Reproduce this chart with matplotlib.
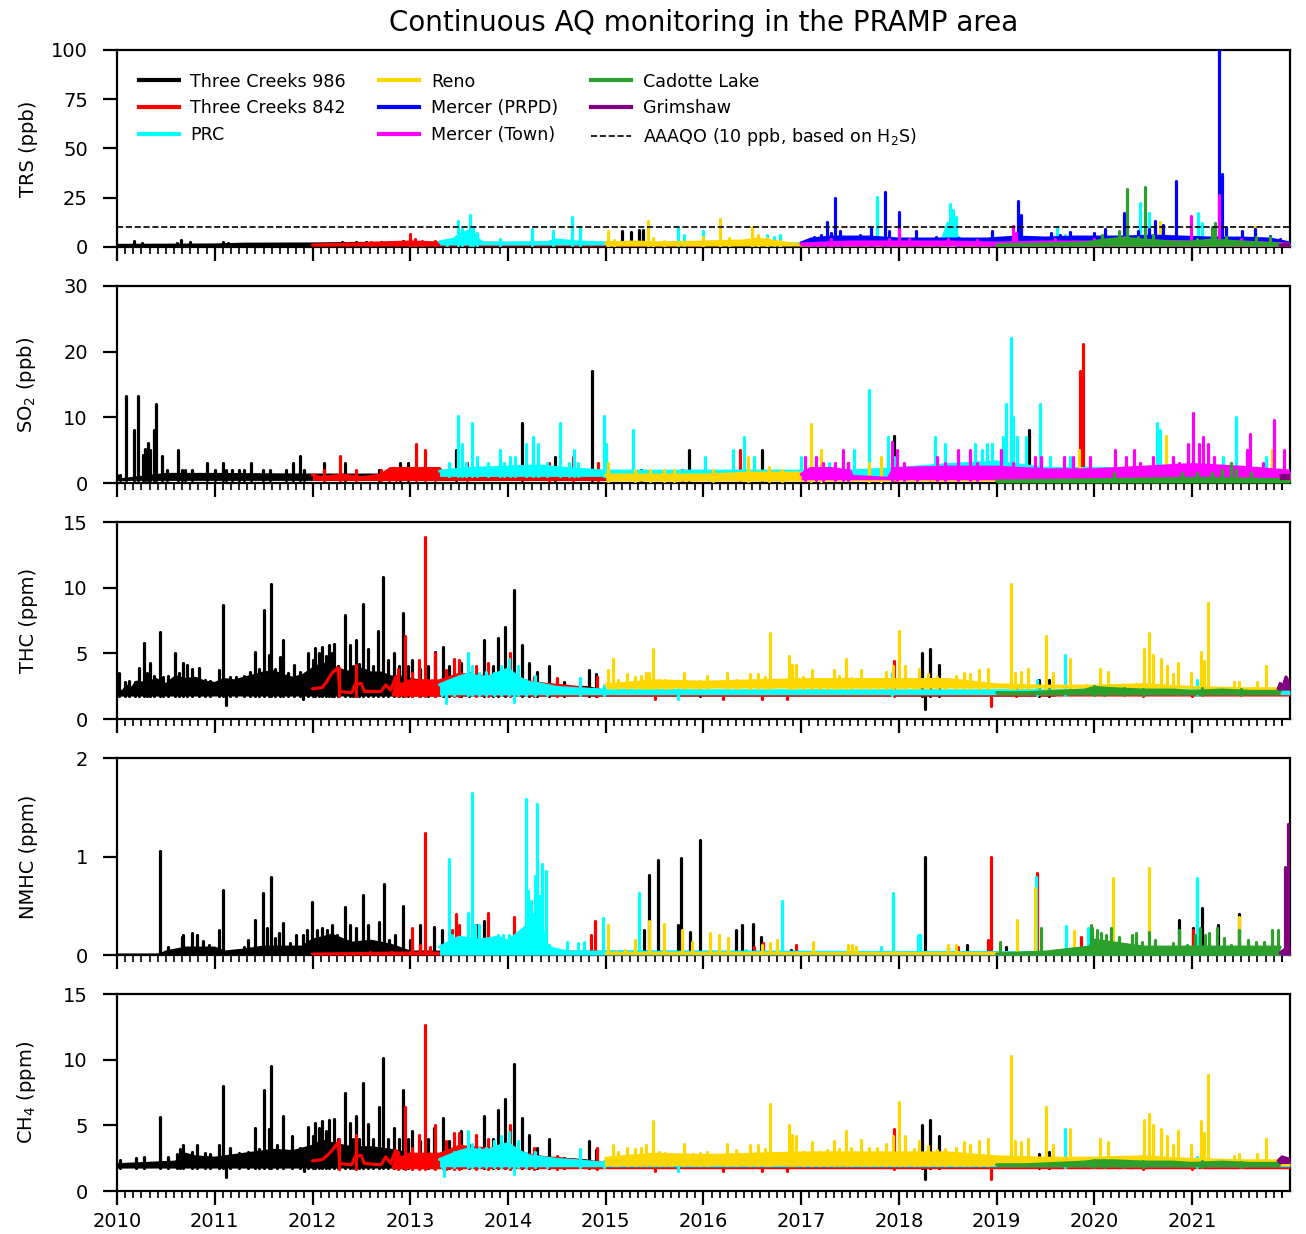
import matplotlib
matplotlib.use("Agg")
import matplotlib.pyplot as plt
from matplotlib.ticker import FixedLocator
from matplotlib.lines import Line2D

# ---------------- stations ----------------
STATIONS = ["Three Creeks 986", "Three Creeks 842", "PRC", "Reno",
            "Mercer (PRPD)", "Mercer (Town)", "Cadotte Lake", "Grimshaw"]
COLORS = ["black", "red", "cyan", "gold", "blue", "magenta", "#2ca02c", "purple"]

YEARS = list(range(2010, 2022))
AAAQO_TRS = 10

# Each series: BASE = upper envelope of the dense day-to-day band (year, value),
# SPIKES = individual excursions (year, value), FLOOR = lower edge of the band,
# BAND_START = year from which the band is dense (before it, only the line is seen).

# ---------------- TRS (ppb) ----------------
TRS_BASE = {
    "Three Creeks 986": [(2010.0, 0.8), (2010.5, 0.9), (2011.0, 1.0), (2011.3, 1.4), (2012.0, 1.5),
                         (2012.5, 1.8), (2013.0, 1.8), (2013.3, 1.2), (2015.0, 1.2), (2018.0, 1.0)],
    "Three Creeks 842": [(2012.0, 1.0), (2012.5, 1.6), (2012.8, 2.2), (2013.0, 2.5), (2013.3, 2.0),
                         (2014.0, 1.8), (2015.0, 1.8), (2016.0, 1.2)],
    "PRC": [(2013.3, 2.5), (2013.45, 4.0), (2013.5, 6), (2013.55, 7), (2013.6, 8), (2013.65, 6.5),
            (2013.7, 3.5), (2013.75, 2.0), (2014.0, 2.0), (2014.4, 2.2), (2014.5, 3.5), (2014.6, 3.0),
            (2014.7, 2.5), (2015.0, 2.0), (2015.5, 1.8), (2016.0, 2.0), (2016.5, 1.5), (2017.0, 1.5),
            (2017.5, 2.0), (2018.0, 2.0), (2018.45, 4), (2018.5, 12), (2018.55, 10), (2018.6, 5),
            (2018.7, 2.5), (2019.0, 2.0), (2019.5, 2.5), (2020.0, 2.5), (2020.5, 3.5), (2021.0, 3.0),
            (2021.5, 2.0), (2022.0, 2.0)],
    "Reno": [(2015.0, 2.0), (2015.3, 2.5), (2015.6, 2.0), (2016.0, 2.5), (2016.4, 3.0), (2016.55, 4.0),
             (2016.7, 3.0), (2016.9, 1.5), (2017.0, 1.2), (2019.0, 1.2), (2022.0, 1.2)],
    "Mercer (PRPD)": [(2017.0, 2.0), (2017.1, 4), (2017.3, 5), (2017.5, 5), (2017.7, 5), (2018.0, 4),
                      (2018.3, 4), (2018.6, 4), (2018.9, 4), (2019.2, 5), (2019.5, 4.5), (2019.8, 5),
                      (2020.0, 5), (2020.3, 5), (2020.6, 5.5), (2020.9, 5), (2021.2, 4.5),
                      (2021.5, 4.5), (2021.8, 4), (2022.0, 2.0)],
    "Mercer (Town)": [(2017.0, 1.5), (2017.5, 2.5), (2018.0, 2.5), (2018.5, 2.5), (2019.0, 2.0),
                      (2019.5, 2.5), (2020.0, 2.5), (2020.5, 3.0), (2021.0, 2.5), (2021.5, 2.5),
                      (2022.0, 1.5)],
    "Cadotte Lake": [(2019.0, 1.0), (2019.5, 1.5), (2019.9, 2.0), (2020.1, 3.5), (2020.3, 4.5), (2020.5, 3.5),
                     (2020.8, 2.5), (2021.0, 2.5), (2021.2, 3.5), (2021.5, 2.5), (2021.9, 1.5)],
    "Grimshaw": [(2021.9, 0.8), (2021.95, 1.5), (2022.0, 1.2)],
}
TRS_SPIKES = {
    "Three Creeks 986": [(2010.17, 2.9), (2010.26, 1.8), (2010.61, 2.2), (2010.65, 3.5), (2010.75, 2.5),
                         (2011.08, 2.5), (2011.14, 1.8), (2011.25, 1.5), (2012.3, 2.3), (2012.45, 2.5),
                         (2012.55, 2.5), (2012.7, 2.5), (2012.93, 3.0), (2015.17, 8.0), (2015.26, 7.5),
                         (2015.34, 8.5), (2015.38, 8.8), (2017.93, 3.0)],
    "Three Creeks 842": [(2012.35, 2.2), (2012.6, 2.3), (2012.85, 2.5), (2013.0, 6.8), (2013.05, 4.0),
                         (2013.12, 3.0), (2013.25, 3.0), (2014.7, 2.0), (2014.85, 2.2)],
    "PRC": [(2013.38, 3.5), (2013.49, 13), (2013.53, 9), (2013.61, 16), (2013.64, 10), (2013.68, 7),
            (2013.92, 4), (2014.25, 9), (2014.46, 8), (2014.65, 15), (2014.74, 10), (2015.74, 9.7),
            (2015.8, 6), (2016.0, 8), (2016.65, 6), (2016.72, 5), (2016.78, 6), (2017.78, 25.5),
            (2018.52, 21.6), (2018.55, 19), (2018.58, 15), (2019.62, 10), (2019.7, 6), (2020.47, 22.4),
            (2020.52, 15), (2020.56, 17), (2021.06, 17), (2021.1, 12)],
    "Reno": [(2015.02, 8), (2015.08, 3.5), (2015.43, 13), (2015.48, 4.5), (2015.6, 3), (2016.0, 5),
             (2016.17, 14.4), (2016.26, 4.5), (2016.5, 10), (2016.56, 6), (2016.65, 4.5), (2016.78, 3),
             (2020.67, 12.6), (2021.64, 10)],
    "Mercer (PRPD)": [(2017.13, 5), (2017.2, 6), (2017.26, 12.6), (2017.3, 7), (2017.35, 25), (2017.4, 8),
                      (2017.6, 6), (2017.71, 10), (2017.86, 27.8), (2017.9, 8), (2018.0, 18), (2018.17, 8),
                      (2018.38, 5), (2018.6, 4.5), (2018.95, 8), (2019.22, 23.4), (2019.25, 16),
                      (2019.56, 7), (2019.65, 6), (2019.75, 7.5), (2020.0, 7), (2020.11, 9), (2020.3, 17.3),
                      (2020.45, 8), (2020.56, 9), (2020.62, 13), (2020.7, 11), (2020.83, 33.4), (2021.0, 5),
                      (2021.27, 100), (2021.3, 36.8), (2021.35, 10), (2021.51, 8), (2021.64, 9),
                      (2021.8, 5.5), (2021.9, 4)],
    "Mercer (Town)": [(2017.3, 4), (2017.9, 4), (2018.0, 9), (2018.1, 4), (2018.5, 4), (2018.8, 3.5),
                      (2019.17, 10.5), (2019.2, 7), (2019.6, 4), (2020.0, 4), (2020.3, 5), (2020.6, 4),
                      (2020.99, 15.6), (2021.27, 26.3), (2021.5, 4), (2021.8, 3.5)],
    "Cadotte Lake": [(2020.08, 6), (2020.25, 8), (2020.33, 29.2), (2020.45, 5), (2020.52, 30.4),
                     (2020.6, 6), (2021.05, 4), (2021.2, 10), (2021.23, 12), (2021.35, 5), (2021.65, 5),
                     (2021.8, 5)],
    "Grimshaw": [],
}
TRS_FLOOR = {"Three Creeks 986": 0.3, "Three Creeks 842": 0.5, "PRC": 1.0, "Reno": 0.5,
             "Mercer (PRPD)": 1.0, "Mercer (Town)": 0.5, "Cadotte Lake": 0.5, "Grimshaw": 0.3}
TRS_BAND_START = {}

# ---------------- SO2 (ppb) ----------------
SO2_BASE = {
    "Three Creeks 986": [(2010.0, 1.2), (2010.05, 0.5), (2010.5, 1.3), (2011.0, 1.3), (2012.0, 1.2),
                         (2013.0, 1.2), (2014.0, 1.2), (2015.0, 1.2), (2017.0, 1.2), (2019.5, 1.2)],
    "Three Creeks 842": [(2012.0, 1.2), (2012.1, 0.8), (2012.3, 1.2), (2012.5, 0.8), (2012.7, 1.2),
                         (2012.8, 2.2), (2013.3, 2.2), (2013.35, 1.2), (2016.0, 1.2), (2022.0, 1.2)],
    "PRC": [(2013.3, 1.8), (2013.6, 2.2), (2014.0, 2.4), (2014.3, 2.6), (2014.6, 2.2), (2015.0, 1.8),
            (2016.0, 1.8), (2017.0, 1.8), (2017.5, 1.8), (2018.0, 2.2), (2018.5, 2.8), (2019.0, 3.2),
            (2019.5, 2.2), (2020.5, 2.2), (2021.5, 2.2), (2022.0, 1.8)],
    "Reno": [(2015.0, 1.2), (2016.0, 1.2), (2016.5, 1.5), (2017.0, 1.5), (2017.5, 1.0), (2017.9, 0.5),
             (2018.0, 1.2), (2022.0, 1.2)],
    "Mercer (PRPD)": [],
    "Mercer (Town)": [(2017.0, 1.3), (2017.1, 2.2), (2017.3, 2.2), (2017.5, 1.8), (2017.52, 1.0),
                      (2017.89, 0.7), (2017.95, 2.2), (2018.5, 2.4), (2019.0, 2.4), (2019.5, 2.0),
                      (2020.0, 2.0), (2020.5, 2.4), (2021.0, 2.8), (2021.5, 2.4), (2022.0, 1.8)],
    "Cadotte Lake": [(2019.0, 0.3), (2020.0, 0.5), (2021.0, 0.7), (2022.0, 0.5)],
    "Grimshaw": [(2021.9, 1.2), (2022.0, 1.2)],
}
SO2_SPIKES = {
    "Three Creeks 986": [(2010.03, 1.2), (2010.095, 13.2), (2010.17, 8.1), (2010.21, 13.2), (2010.27, 4.2),
                         (2010.29, 5.2), (2010.32, 6.1), (2010.34, 5), (2010.38, 8), (2010.40, 12.1),
                         (2010.46, 4.1), (2010.51, 2), (2010.62, 5.1), (2010.66, 2), (2010.7, 2),
                         (2010.77, 2), (2010.92, 3), (2011.0, 2), (2011.08, 3), (2011.12, 2), (2011.18, 2),
                         (2011.25, 2), (2011.30, 2), (2011.37, 3), (2011.49, 2), (2011.57, 2), (2011.73, 2),
                         (2011.8, 3), (2011.87, 4.1), (2011.91, 2), (2012.12, 3), (2012.33, 3), (2012.68, 2),
                         (2012.9, 3), (2012.98, 3), (2013.47, 5), (2014.14, 9.1), (2014.48, 4),
                         (2014.86, 17.1), (2015.36, 2), (2015.85, 5), (2016.6, 5), (2017.48, 3),
                         (2017.95, 7.1), (2019.33, 8)],
    "Three Creeks 842": [(2012.12, 2), (2012.28, 4.1), (2012.45, 2), (2012.7, 2), (2012.78, 2), (2012.85, 2),
                         (2013.06, 6), (2013.15, 5.1), (2013.25, 2), (2013.58, 3), (2014.42, 3), (2014.66, 4),
                         (2014.92, 3), (2015.78, 2), (2016.37, 5), (2018.32, 2), (2019.85, 17), (2019.88, 21.2)],
    "PRC": [(2013.4, 3), (2013.49, 10.2), (2013.53, 6), (2013.57, 3), (2013.63, 9.1), (2013.68, 4),
            (2013.8, 3), (2013.92, 5), (2013.96, 3), (2014.02, 4), (2014.07, 4), (2014.18, 6),
            (2014.26, 7), (2014.31, 6), (2014.4, 3), (2014.53, 9.1), (2014.62, 3), (2014.68, 5),
            (2014.72, 3), (2014.98, 10.2), (2015.0, 6), (2015.28, 8.1), (2016.02, 4), (2016.3, 5),
            (2016.41, 7), (2016.52, 4), (2017.0, 4), (2017.28, 3), (2017.54, 5), (2017.69, 14.2),
            (2017.89, 7), (2017.95, 4), (2018.37, 7), (2018.47, 6), (2018.78, 6), (2018.85, 5),
            (2018.9, 6), (2018.95, 6), (2019.06, 7), (2019.1, 12.1), (2019.15, 22.1), (2019.17, 10),
            (2019.21, 7), (2019.3, 7), (2019.44, 12.1), (2019.55, 4), (2019.75, 4), (2020.64, 9.1),
            (2020.67, 8), (2021.32, 4), (2021.45, 10.1), (2021.75, 4)],
    "Reno": [(2015.02, 3), (2015.3, 2), (2015.45, 2), (2015.6, 2), (2015.7, 2), (2016.1, 2), (2016.46, 4),
             (2016.67, 2.5), (2016.8, 2), (2017.1, 9), (2017.2, 5), (2017.69, 3), (2017.82, 4),
             (2019.84, 5), (2020.73, 7.1), (2020.9, 2), (2021.82, 5)],
    "Mercer (PRPD)": [],
    "Mercer (Town)": [(2017.04, 4), (2017.15, 4), (2017.22, 3), (2017.35, 3), (2017.43, 5), (2017.48, 3),
                      (2017.93, 6.2), (2017.98, 5), (2018.05, 3), (2018.18, 2.5), (2018.39, 4),
                      (2018.47, 3), (2018.6, 5), (2018.73, 5), (2018.8, 3), (2019.04, 5), (2019.17, 3),
                      (2019.39, 4), (2019.45, 4), (2019.69, 4), (2019.78, 4), (2019.95, 4), (2020.21, 5),
                      (2020.32, 4), (2020.4, 5), (2020.47, 3), (2020.6, 4), (2020.8, 4), (2020.87, 3),
                      (2020.96, 6), (2021.01, 10.6), (2021.07, 6), (2021.11, 7), (2021.16, 6),
                      (2021.22, 4), (2021.56, 5), (2021.59, 7.5), (2021.72, 3), (2021.84, 9.6),
                      (2021.94, 5)],
    "Cadotte Lake": [(2020.2, 1.5), (2020.9, 1.5), (2021.05, 1.5), (2021.2, 1.5), (2021.3, 2), (2021.4, 3),
                     (2021.45, 2), (2021.6, 1.5)],
    "Grimshaw": [],
}
SO2_FLOOR = {"Three Creeks 986": 0.4, "Three Creeks 842": 0.4, "PRC": 1.0, "Reno": 0.3,
             "Mercer (PRPD)": 0.5, "Mercer (Town)": 0.5, "Cadotte Lake": 0.0, "Grimshaw": 0.5}
SO2_BAND_START = {}

# ---------------- THC (ppm) ----------------
THC_BASE = {
    "Three Creeks 986": [(2010.0, 2.4), (2010.05, 2.0), (2010.1, 2.5), (2010.15, 2.3), (2010.2, 2.8),
                         (2010.3, 2.7), (2010.4, 3.0), (2010.5, 2.6), (2010.6, 3.2), (2010.7, 3.0),
                         (2010.8, 3.1), (2010.9, 2.8), (2011.0, 2.7), (2011.1, 3.0), (2011.2, 2.9),
                         (2011.3, 3.1), (2011.4, 3.3), (2011.5, 3.5), (2011.6, 3.6), (2011.7, 3.3),
                         (2011.8, 3.1), (2011.9, 3.3), (2012.0, 3.8), (2012.1, 4.2), (2012.2, 4.0),
                         (2012.3, 3.7), (2012.4, 3.5), (2012.5, 3.8), (2012.6, 3.5), (2012.7, 3.5),
                         (2012.8, 3.2), (2012.9, 3.2), (2013.0, 3.0), (2013.2, 2.8), (2013.4, 2.9),
                         (2013.6, 3.0), (2013.8, 3.2), (2014.0, 3.4), (2014.2, 2.8), (2014.4, 2.6),
                         (2014.6, 2.4), (2014.8, 2.4), (2015.0, 2.1), (2016.0, 2.0), (2018.0, 2.0),
                         (2019.6, 2.0)],
    "Three Creeks 842": [(2012.0, 2.3), (2012.1, 2.4), (2012.15, 2.9), (2012.2, 3.5), (2012.26, 3.9),
                         (2012.28, 2.1), (2012.4, 2.0), (2012.44, 2.7), (2012.5, 2.7), (2012.53, 2.1),
                         (2012.7, 2.1), (2012.75, 2.6), (2012.8, 2.2), (2012.85, 3.2), (2012.9, 2.6),
                         (2013.0, 2.9), (2013.3, 2.9), (2013.5, 3.4), (2013.8, 3.2), (2014.0, 3.2),
                         (2014.3, 2.7), (2014.6, 2.5), (2015.0, 2.1), (2016.0, 1.9), (2022.0, 1.9)],
    "PRC": [(2013.3, 2.6), (2013.4, 2.9), (2013.5, 3.2), (2013.6, 3.4), (2013.7, 3.2), (2013.8, 3.2),
            (2013.9, 3.5), (2014.0, 3.8), (2014.1, 3.2), (2014.2, 2.8), (2014.3, 2.7), (2014.5, 2.4),
            (2014.7, 2.3), (2015.0, 2.2), (2016.0, 2.15), (2022.0, 2.15)],
    "Reno": [(2015.0, 2.6), (2015.5, 2.9), (2016.0, 2.8), (2016.5, 2.9), (2017.0, 3.0), (2017.5, 3.0),
             (2018.0, 3.0), (2018.5, 3.0), (2019.0, 2.6), (2019.5, 2.5), (2020.0, 2.5), (2020.5, 2.6),
             (2021.0, 2.4), (2021.5, 2.3), (2022.0, 2.3)],
    "Mercer (PRPD)": [],
    "Mercer (Town)": [],
    "Cadotte Lake": [(2019.0, 2.0), (2019.3, 2.0), (2019.6, 2.1), (2019.9, 2.2), (2020.0, 2.4), (2020.2, 2.3),
                     (2020.5, 2.2), (2020.8, 2.2), (2021.0, 2.1), (2021.3, 2.2), (2021.6, 2.1),
                     (2021.9, 2.1)],
    "Grimshaw": [(2021.88, 2.3), (2021.9, 2.7), (2021.93, 2.5), (2021.96, 3.2), (2022.0, 2.6)],
}
THC_SPIKES = {
    "Three Creeks 986": [(2010.02, 3.5), (2010.08, 2.8), (2010.12, 2.9), (2010.18, 2.8), (2010.23, 3.9),
                         (2010.28, 5.8), (2010.31, 3.5), (2010.34, 4.3), (2010.38, 3.3), (2010.44, 6.6),
                         (2010.47, 3.2), (2010.52, 3.3), (2010.59, 5.0), (2010.63, 3.5), (2010.68, 4.3),
                         (2010.72, 4.1), (2010.77, 3.8), (2010.84, 3.9), (2010.9, 3.0), (2010.95, 2.9),
                         (2011.04, 3.7), (2011.08, 8.7), (2011.11, 1.1), (2011.16, 3.2), (2011.22, 3.2),
                         (2011.3, 3.3), (2011.36, 3.6), (2011.41, 5.1), (2011.45, 3.8), (2011.5, 8.3),
                         (2011.55, 4.9), (2011.58, 10.25), (2011.62, 3.8), (2011.67, 4.7), (2011.7, 6.0),
                         (2011.75, 3.5), (2011.81, 4.1), (2011.87, 3.6), (2011.9, 1.5), (2011.95, 5.0),
                         (2012.0, 4.5), (2012.03, 5.4), (2012.07, 5.0), (2012.1, 5.5), (2012.14, 4.8),
                         (2012.17, 5.6), (2012.2, 5.0), (2012.22, 5.7), (2012.26, 4.0), (2012.33, 7.9),
                         (2012.38, 5.6), (2012.41, 4.0), (2012.44, 6.0), (2012.48, 4.2), (2012.52, 8.75),
                         (2012.57, 5.3), (2012.62, 4.0), (2012.67, 6.7), (2012.72, 10.8), (2012.77, 4.5),
                         (2012.83, 5.0), (2012.88, 4.0), (2012.93, 8.1), (2012.98, 4.0), (2013.02, 4.5),
                         (2013.1, 3.8), (2013.18, 4.0), (2013.25, 5.1), (2013.34, 5.5), (2013.4, 4.0),
                         (2013.52, 4.3), (2013.6, 3.5), (2013.75, 6.0), (2013.85, 4.0), (2013.9, 6.2),
                         (2013.97, 7.0), (2014.06, 9.8), (2014.14, 5.6), (2014.22, 4.3), (2014.3, 3.6),
                         (2014.42, 4.0), (2014.57, 2.8), (2014.83, 3.7), (2014.9, 3.4), (2015.96, 2.7),
                         (2018.24, 5.0), (2018.27, 0.8), (2018.32, 5.3), (2018.41, 4.1), (2019.43, 3.0),
                         (2019.53, 3.0)],
    "Three Creeks 842": [(2012.27, 3.9), (2012.45, 4.1), (2012.87, 3.8), (2012.95, 6.3), (2013.02, 3.5),
                         (2013.09, 4.5), (2013.15, 13.85), (2013.25, 5.0), (2013.37, 3.7), (2013.45, 4.6),
                         (2013.5, 4.5), (2013.67, 4.0), (2013.8, 4.3), (2014.02, 5.0), (2014.27, 3.2),
                         (2014.5, 3.1), (2014.91, 3.2), (2015.5, 1.5), (2016.2, 1.5), (2016.6, 1.5),
                         (2016.85, 1.5), (2017.95, 4.4), (2018.94, 1.0), (2019.2, 2.6), (2020.5, 2.2),
                         (2021.0, 2.3)],
    "PRC": [(2013.32, 2.6), (2013.37, 1.2), (2013.45, 3.0), (2013.59, 5.0), (2013.63, 4.0), (2013.7, 3.5),
            (2013.78, 3.6), (2013.86, 3.5), (2013.93, 4.0), (2014.01, 4.6), (2014.06, 1.3), (2014.1, 4.0),
            (2014.18, 3.0), (2014.28, 3.3), (2014.4, 2.6), (2014.74, 3.1), (2014.98, 2.6), (2015.74, 1.5),
            (2017.93, 3.5), (2019.41, 3.0), (2019.7, 4.9), (2021.05, 3.0)],
    "Reno": [(2015.02, 3.7), (2015.07, 4.6), (2015.13, 3.0), (2015.22, 3.4), (2015.3, 3.2), (2015.36, 3.3),
             (2015.41, 3.5), (2015.44, 3.5), (2015.48, 5.3), (2015.54, 3.0), (2015.61, 3.0),
             (2015.67, 2.9), (2015.80, 3.5), (2015.89, 2.8), (2015.96, 2.9), (2016.04, 3.3),
             (2016.24, 3.5), (2016.33, 3.0), (2016.48, 3.4), (2016.56, 3.4), (2016.63, 3.2),
             (2016.68, 6.55), (2016.87, 4.8), (2016.91, 4.1), (2016.95, 4.1), (2017.02, 3.2),
             (2017.11, 3.7), (2017.19, 2.9), (2017.26, 3.0), (2017.34, 3.7), (2017.39, 3.3),
             (2017.46, 4.6), (2017.51, 3.1), (2017.61, 3.7), (2017.69, 3.0), (2017.78, 3.0),
             (2017.87, 3.6), (2017.94, 4.0), (2018.0, 6.7), (2018.06, 4.0), (2018.15, 3.0),
             (2018.21, 3.8), (2018.30, 3.4), (2018.39, 3.2), (2018.47, 3.0), (2018.58, 3.3),
             (2018.67, 3.5), (2018.73, 3.4), (2018.82, 3.7), (2018.91, 3.8), (2019.15, 10.25),
             (2019.19, 3.5), (2019.25, 3.6), (2019.32, 3.8), (2019.50, 6.3), (2019.58, 3.5),
             (2019.75, 4.6), (2019.91, 2.6), (2020.06, 3.8), (2020.14, 3.6), (2020.34, 2.5),
             (2020.43, 2.7), (2020.51, 5.3), (2020.56, 6.55), (2020.60, 4.9), (2020.68, 4.6),
             (2020.74, 4.0), (2020.80, 3.4), (2020.85, 4.3), (2020.99, 3.5), (2021.09, 5.1),
             (2021.12, 4.4), (2021.16, 8.8), (2021.43, 2.8), (2021.48, 2.8), (2021.66, 2.8),
             (2021.75, 4.0)],
    "Mercer (PRPD)": [],
    "Mercer (Town)": [],
    "Cadotte Lake": [(2020.0, 2.5), (2020.1, 2.4), (2020.3, 2.4), (2020.5, 2.3), (2021.1, 2.4),
                     (2021.5, 2.3)],
    "Grimshaw": [],
}
THC_FLOOR = {"Three Creeks 986": 1.75, "Three Creeks 842": 1.75, "PRC": 1.85, "Reno": 2.35,
             "Mercer (PRPD)": 2.0, "Mercer (Town)": 2.0, "Cadotte Lake": 1.85, "Grimshaw": 2.2}
THC_BAND_START = {"Three Creeks 842": 2012.85}

# ---------------- NMHC (ppm) ----------------
NMHC_BASE = {
    "Three Creeks 986": [(2010.0, 0.0), (2010.44, 0.0), (2010.5, 0.03), (2010.7, 0.07), (2011.0, 0.07),
                         (2011.1, 0.03), (2011.3, 0.05), (2011.5, 0.08), (2011.9, 0.08), (2012.0, 0.15),
                         (2012.2, 0.2), (2012.4, 0.12), (2012.6, 0.14), (2012.8, 0.1), (2013.0, 0.03),
                         (2022.0, 0.02)],
    "Three Creeks 842": [(2012.0, 0.01), (2013.0, 0.02), (2022.0, 0.02)],
    "PRC": [(2013.3, 0.08), (2013.5, 0.18), (2013.7, 0.15), (2013.9, 0.18), (2014.0, 0.14), (2014.2, 0.3),
            (2014.3, 0.45), (2014.4, 0.08), (2014.6, 0.03), (2022.0, 0.02)],
    "Reno": [(2015.0, 0.02), (2022.0, 0.02)],
    "Mercer (PRPD)": [],
    "Mercer (Town)": [],
    "Cadotte Lake": [(2019.0, 0.01), (2019.5, 0.03), (2019.95, 0.08), (2020.0, 0.15), (2020.5, 0.08),
                     (2021.9, 0.08)],
    "Grimshaw": [(2021.9, 0.02), (2022.0, 0.1)],
}
NMHC_SPIKES = {
    "Three Creeks 986": [(2010.44, 1.06), (2010.52, 0.08), (2010.61, 0.05), (2010.66, 0.18), (2010.68, 0.2),
                         (2010.77, 0.22), (2010.82, 0.2), (2010.88, 0.14), (2010.94, 0.1), (2011.04, 0.25),
                         (2011.08, 0.66), (2011.3, 0.08), (2011.34, 0.15), (2011.41, 0.36), (2011.49, 0.63),
                         (2011.53, 0.27), (2011.58, 0.79), (2011.62, 0.17), (2011.66, 0.22), (2011.7, 0.33),
                         (2011.77, 0.12), (2011.83, 0.2), (2011.9, 0.2), (2011.94, 0.25), (2011.99, 0.54),
                         (2012.05, 0.25), (2012.1, 0.27), (2012.15, 0.25), (2012.2, 0.3), (2012.25, 0.2),
                         (2012.33, 0.49), (2012.38, 0.3), (2012.44, 0.27), (2012.52, 0.61), (2012.57, 0.3),
                         (2012.68, 0.34), (2012.73, 0.72), (2012.78, 0.15), (2012.84, 0.2), (2012.93, 0.5),
                         (2013.0, 0.15), (2013.1, 0.3), (2013.24, 0.28), (2013.32, 0.25), (2013.67, 0.3),
                         (2013.75, 0.35), (2013.8, 0.2), (2015.39, 0.25), (2015.44, 0.81), (2015.53, 0.96),
                         (2015.74, 0.3), (2015.77, 0.99), (2015.86, 0.23), (2015.96, 1.17), (2016.33, 0.25),
                         (2016.39, 0.3), (2016.51, 0.32), (2016.59, 0.18), (2016.9, 0.05), (2018.27, 1.0),
                         (2018.5, 0.08), (2018.7, 0.1), (2019.1, 0.08), (2020.87, 0.36), (2021.01, 0.27),
                         (2021.1, 0.48), (2021.26, 0.3), (2021.48, 0.42)],
    "Three Creeks 842": [(2012.59, 0.03), (2012.8, 0.03), (2013.02, 0.27), (2013.1, 0.1), (2013.15, 1.24),
                         (2013.2, 0.08), (2013.43, 0.25), (2013.47, 0.42), (2013.5, 0.3), (2013.8, 0.43),
                         (2014.06, 0.39), (2014.1, 0.2), (2014.85, 0.2), (2014.89, 0.35), (2016.52, 0.08),
                         (2016.61, 0.12), (2016.8, 0.08), (2016.95, 0.1), (2018.6, 0.08), (2018.91, 0.15),
                         (2018.94, 1.0), (2019.41, 0.83), (2019.86, 0.18), (2020.93, 0.07), (2021.01, 0.25)],
    "PRC": [(2013.34, 0.1), (2013.4, 0.98), (2013.43, 0.2), (2013.5, 0.17), (2013.55, 0.15), (2013.59, 0.43),
            (2013.63, 1.64), (2013.66, 0.3), (2013.7, 0.3), (2013.8, 0.15), (2013.9, 0.2), (2013.95, 0.2),
            (2014.01, 0.2), (2014.08, 0.12), (2014.16, 0.2), (2014.18, 1.58), (2014.2, 0.65),
            (2014.24, 0.55), (2014.28, 0.8), (2014.3, 1.53), (2014.33, 0.6), (2014.35, 0.92),
            (2014.39, 0.85), (2014.42, 0.1), (2014.6, 0.13), (2014.72, 0.12), (2014.78, 0.13),
            (2014.97, 0.38), (2015.34, 0.63), (2016.43, 0.05), (2016.8, 0.55), (2017.82, 0.08),
            (2017.94, 0.63), (2018.19, 0.2), (2018.22, 0.2), (2019.4, 0.79), (2019.71, 0.29),
            (2019.93, 0.27), (2021.05, 0.78)],
    "Reno": [(2015.02, 0.3), (2015.1, 0.03), (2015.2, 0.05), (2015.3, 0.15), (2015.44, 0.35), (2015.6, 0.32),
             (2015.78, 0.25), (2015.88, 0.13), (2016.07, 0.22), (2016.16, 0.2), (2016.25, 0.17),
             (2016.6, 0.1), (2016.68, 0.12), (2016.75, 0.15), (2017.12, 0.13), (2017.48, 0.1),
             (2017.52, 0.1), (2017.56, 0.08), (2017.95, 0.03), (2018.5, 0.1), (2018.58, 0.1),
             (2019.21, 0.36), (2019.39, 0.68), (2019.79, 0.24), (2020.19, 0.78), (2020.56, 0.88),
             (2021.48, 0.39)],
    "Mercer (PRPD)": [],
    "Mercer (Town)": [],
    "Cadotte Lake": [(2019.03, 0.13), (2019.45, 0.27), (2019.96, 0.3), (2019.98, 0.27), (2020.03, 0.25),
                     (2020.07, 0.22), (2020.12, 0.2), (2020.17, 0.27), (2020.25, 0.18), (2020.33, 0.1),
                     (2020.38, 0.2), (2020.43, 0.22), (2020.49, 0.13), (2020.56, 0.23), (2020.62, 0.15),
                     (2020.72, 0.08), (2020.8, 0.12), (2020.86, 0.25), (2020.95, 0.1), (2021.03, 0.2),
                     (2021.08, 0.27), (2021.13, 0.2), (2021.17, 0.22), (2021.25, 0.27), (2021.33, 0.17),
                     (2021.4, 0.1), (2021.48, 0.25), (2021.57, 0.15), (2021.65, 0.13), (2021.73, 0.13),
                     (2021.82, 0.25), (2021.88, 0.25)],
    "Grimshaw": [(2021.945, 0.89), (2021.985, 1.33)],
}
NMHC_FLOOR = {s: 0.0 for s in STATIONS}
NMHC_BAND_START = {}

# ---------------- CH4 (ppm) ----------------
CH4_BASE = {
    "Three Creeks 986": [(2010.0, 2.0), (2010.3, 2.1), (2010.6, 2.2), (2010.7, 2.8), (2010.8, 2.6),
                         (2011.0, 2.5), (2011.2, 2.7), (2011.4, 2.9), (2011.6, 3.1), (2011.8, 3.0),
                         (2012.0, 3.4), (2012.1, 3.8), (2012.2, 3.6), (2012.4, 3.3), (2012.6, 3.3),
                         (2012.8, 3.1), (2013.0, 2.8), (2013.3, 2.6), (2013.6, 2.8), (2013.8, 3.0),
                         (2014.0, 3.1), (2014.2, 2.7), (2014.4, 2.5), (2014.8, 2.3), (2015.0, 2.0),
                         (2019.6, 2.0)],
    "Three Creeks 842": [(2012.0, 2.3), (2012.1, 2.4), (2012.15, 2.7), (2012.2, 3.1), (2012.26, 3.7),
                         (2012.28, 2.1), (2012.4, 2.0), (2012.44, 2.7), (2012.5, 2.7), (2012.53, 2.1),
                         (2012.7, 2.0), (2012.75, 2.6), (2012.8, 2.1), (2012.85, 3.1), (2012.9, 2.5),
                         (2013.0, 2.8), (2013.3, 2.8), (2013.5, 3.4), (2013.8, 3.2), (2014.0, 3.2),
                         (2014.3, 2.6), (2014.6, 2.4), (2015.0, 2.1), (2016.0, 1.9), (2022.0, 1.9)],
    "PRC": [(2013.3, 2.4), (2013.4, 2.7), (2013.5, 3.0), (2013.6, 3.2), (2013.7, 3.1), (2013.8, 3.1),
            (2013.9, 3.4), (2014.0, 3.6), (2014.1, 3.1), (2014.2, 2.7), (2014.3, 2.6), (2014.5, 2.4),
            (2014.7, 2.3), (2015.0, 2.1), (2022.0, 2.1)],
    "Reno": [(2015.0, 2.5), (2015.5, 2.8), (2016.0, 2.7), (2016.5, 2.8), (2017.0, 2.9), (2017.5, 2.9),
             (2018.0, 2.9), (2018.5, 2.9), (2019.0, 2.6), (2019.5, 2.5), (2020.0, 2.5), (2020.5, 2.6),
             (2021.0, 2.4), (2021.5, 2.3), (2022.0, 2.3)],
    "Mercer (PRPD)": [],
    "Mercer (Town)": [],
    "Cadotte Lake": [(2019.0, 2.0), (2019.3, 2.0), (2019.6, 2.1), (2019.9, 2.2), (2020.0, 2.3),
                     (2020.2, 2.3), (2020.5, 2.2), (2020.8, 2.2), (2021.0, 2.1), (2021.3, 2.2),
                     (2021.6, 2.1), (2021.9, 2.1)],
    "Grimshaw": [(2021.88, 2.3), (2021.92, 2.6), (2021.96, 2.5), (2022.0, 2.4)],
}
CH4_SPIKES = {
    "Three Creeks 986": [(2010.03, 2.4), (2010.19, 2.5), (2010.28, 2.6), (2010.44, 5.65), (2010.52, 2.6),
                         (2010.61, 2.8), (2010.64, 3.2), (2010.68, 3.5), (2010.77, 3.0), (2010.82, 3.5),
                         (2010.9, 2.9), (2010.95, 2.8), (2011.04, 3.5), (2011.08, 8.0), (2011.11, 1.1),
                         (2011.16, 3.3), (2011.25, 2.9), (2011.34, 3.0), (2011.41, 4.8), (2011.45, 3.2),
                         (2011.5, 7.7), (2011.55, 4.7), (2011.58, 9.5), (2011.64, 3.5), (2011.7, 5.7),
                         (2011.79, 4.2), (2011.87, 3.3), (2011.91, 1.5), (2011.95, 4.9), (2012.0, 4.2),
                         (2012.03, 5.2), (2012.07, 4.8), (2012.1, 5.3), (2012.14, 4.6), (2012.17, 5.4),
                         (2012.22, 5.5), (2012.26, 4.0), (2012.33, 7.5), (2012.38, 5.2), (2012.41, 4.0),
                         (2012.44, 5.7), (2012.48, 4.0), (2012.52, 8.2), (2012.57, 5.1), (2012.62, 4.0),
                         (2012.68, 6.4), (2012.72, 10.1), (2012.77, 4.0), (2012.83, 4.8), (2012.88, 4.0),
                         (2012.93, 7.7), (2012.98, 4.0), (2013.02, 4.6), (2013.1, 3.8), (2013.18, 4.0),
                         (2013.24, 4.8), (2013.34, 5.6), (2013.4, 3.8), (2013.52, 4.6), (2013.6, 3.5),
                         (2013.75, 5.7), (2013.85, 4.0), (2013.9, 6.2), (2013.97, 7.0), (2014.06, 9.64),
                         (2014.14, 5.6), (2014.22, 4.3), (2014.3, 3.3), (2014.42, 4.0), (2014.57, 2.5),
                         (2014.83, 3.8), (2014.9, 3.1), (2018.24, 5.0), (2018.27, 0.9), (2018.32, 5.4),
                         (2018.41, 4.2), (2019.43, 2.8), (2019.53, 3.0)],
    "Three Creeks 842": [(2012.27, 3.95), (2012.45, 4.25), (2012.87, 3.0), (2012.95, 6.4), (2013.02, 3.3),
                         (2013.09, 4.3), (2013.15, 12.65), (2013.25, 5.0), (2013.37, 3.8), (2013.45, 4.4),
                         (2013.5, 4.4), (2013.67, 4.3), (2013.8, 4.0), (2014.02, 5.0), (2014.27, 3.3),
                         (2014.5, 2.7), (2014.91, 3.3), (2015.5, 1.5), (2016.2, 1.5), (2016.6, 1.5),
                         (2016.85, 1.5), (2017.95, 4.7), (2018.94, 0.9), (2020.5, 2.2), (2021.0, 2.3)],
    "PRC": [(2013.32, 2.4), (2013.35, 1.15), (2013.45, 3.0), (2013.59, 4.6), (2013.63, 3.6), (2013.7, 3.3),
            (2013.78, 3.3), (2013.86, 3.8), (2013.93, 4.2), (2014.01, 4.5), (2014.06, 1.3), (2014.1, 3.8),
            (2014.18, 2.9), (2014.28, 3.0), (2014.4, 2.4), (2014.74, 3.2), (2014.98, 2.3), (2015.74, 1.5),
            (2019.7, 4.7), (2021.05, 2.6)],
    "Reno": [(2015.0, 2.5), (2015.07, 3.5), (2015.13, 3.0), (2015.22, 3.3), (2015.3, 3.2), (2015.36, 3.3),
             (2015.41, 3.5), (2015.48, 5.3), (2015.54, 3.0), (2015.61, 2.9), (2015.67, 2.8),
             (2015.80, 3.6), (2015.89, 2.8), (2015.96, 2.9), (2016.04, 3.0), (2016.24, 3.6),
             (2016.33, 3.1), (2016.48, 3.5), (2016.56, 3.5), (2016.63, 3.2), (2016.68, 6.6),
             (2016.87, 5.0), (2016.91, 4.3), (2016.95, 4.2), (2017.02, 3.0), (2017.11, 3.7),
             (2017.19, 3.0), (2017.26, 3.1), (2017.34, 3.8), (2017.39, 3.2), (2017.46, 4.6),
             (2017.51, 3.3), (2017.61, 3.9), (2017.69, 3.3), (2017.78, 3.3), (2017.87, 3.6),
             (2017.94, 4.2), (2018.0, 6.8), (2018.06, 4.2), (2018.15, 3.2), (2018.21, 3.8),
             (2018.30, 3.4), (2018.39, 3.1), (2018.47, 3.2), (2018.58, 3.3), (2018.67, 3.7),
             (2018.73, 3.5), (2018.82, 3.8), (2018.91, 4.0), (2019.15, 10.3), (2019.19, 3.8),
             (2019.25, 3.7), (2019.32, 4.0), (2019.50, 6.4), (2019.58, 3.5), (2019.75, 4.7),
             (2019.91, 2.5), (2020.06, 4.0), (2020.14, 3.7), (2020.34, 2.5), (2020.43, 2.6),
             (2020.51, 5.4), (2020.56, 5.85), (2020.60, 5.0), (2020.68, 4.7), (2020.74, 4.2),
             (2020.80, 3.5), (2020.85, 4.6), (2020.99, 3.5), (2021.09, 5.3), (2021.12, 4.4),
             (2021.16, 8.8), (2021.43, 2.7), (2021.48, 2.8), (2021.66, 2.8), (2021.75, 4.0)],
    "Mercer (PRPD)": [],
    "Mercer (Town)": [],
    "Cadotte Lake": [(2020.0, 2.4), (2020.1, 2.4), (2020.3, 2.3), (2020.5, 2.3), (2021.1, 2.3),
                     (2021.5, 2.2)],
    "Grimshaw": [],
}
CH4_FLOOR = {"Three Creeks 986": 1.75, "Three Creeks 842": 1.7, "PRC": 1.85, "Reno": 1.95,
             "Mercer (PRPD)": 2.0, "Mercer (Town)": 2.0, "Cadotte Lake": 1.85, "Grimshaw": 2.1}
CH4_BAND_START = {"Three Creeks 842": 2012.85}

PANELS = [
    ("TRS (ppb)", TRS_BASE, TRS_SPIKES, TRS_FLOOR, TRS_BAND_START, [0, 25, 50, 75, 100]),
    ("SO$_2$ (ppb)", SO2_BASE, SO2_SPIKES, SO2_FLOOR, SO2_BAND_START, [0, 10, 20, 30]),
    ("THC (ppm)", THC_BASE, THC_SPIKES, THC_FLOOR, THC_BAND_START, [0, 5, 10, 15]),
    ("NMHC (ppm)", NMHC_BASE, NMHC_SPIKES, NMHC_FLOOR, NMHC_BAND_START, [0, 1, 2]),
    ("CH$_4$ (ppm)", CH4_BASE, CH4_SPIKES, CH4_FLOOR, CH4_BAND_START, [0, 5, 10, 15]),
]

# ---------------- figure ----------------
plt.rcParams["font.family"] = ["DejaVu Sans"]
fig, axes = plt.subplots(5, 1, figsize=(13.06, 12.34), dpi=100, sharex=True)
fig.subplots_adjust(left=0.0896, right=0.9877, top=0.9595, bottom=0.0348, hspace=0.198)

LW = 2.3
for ax, (ylabel, base, spikes, floor, band_start, yt) in zip(axes, PANELS):
    for i, (st, col) in enumerate(zip(STATIONS, COLORS)):
        b = base.get(st, [])
        if b:
            xs = [p[0] for p in b]
            ys = [p[1] for p in b]
            start = band_start.get(st, xs[0])
            ax.fill_between(xs, floor[st], ys, where=[x >= start for x in xs], interpolate=True,
                            color=col, lw=0, zorder=2 + i)
            ax.plot(xs, ys, color=col, lw=LW, zorder=2 + i, solid_capstyle="round")
        s = spikes.get(st, [])
        if s:
            ax.vlines([p[0] for p in s], floor[st], [p[1] for p in s], color=col, lw=LW,
                      zorder=2 + i, capstyle="round")
    ax.set_ylim(yt[0], yt[-1])
    ax.set_yticks(yt)
    ax.set_ylabel(ylabel, fontsize=14)
    ax.yaxis.set_label_coords(-0.067, 0.5)
    ax.tick_params(axis="both", which="major", labelsize=14, length=10, width=1.6)
    ax.tick_params(axis="y", which="major", pad=11)
    ax.tick_params(axis="x", which="major", pad=5)
    ax.tick_params(axis="x", which="minor", length=5, width=1.2)
    for sp in ax.spines.values():
        sp.set_linewidth(1.6)

axes[0].axhline(AAAQO_TRS, color="black", ls="--", lw=1.2, zorder=20)

ax = axes[-1]
ax.set_xlim(2010, 2022)
ax.xaxis.set_major_locator(FixedLocator(YEARS))
ax.xaxis.set_minor_locator(FixedLocator([y + m / 12 for y in YEARS for m in range(1, 12)] +
                                        [2021 + 11 / 12]))
ax.set_xticklabels([str(y) for y in YEARS])

handles = [Line2D([], [], color=c, lw=3) for c in COLORS]
labels = list(STATIONS)
handles.append(Line2D([], [], color="black", ls="--", lw=1.2))
labels.append("AAAQO (10 ppb, based on H$_2$S)")
axes[0].legend(handles, labels, ncol=3, loc="upper left", bbox_to_anchor=(0.005, 0.965),
               frameon=False, fontsize=12.6, handlelength=2.3, handletextpad=0.65,
               columnspacing=1.9, labelspacing=0.5)

axes[0].set_title("Continuous AQ monitoring in the PRAMP area", fontsize=20, pad=14)
fig.savefig("out.png", dpi=100)
